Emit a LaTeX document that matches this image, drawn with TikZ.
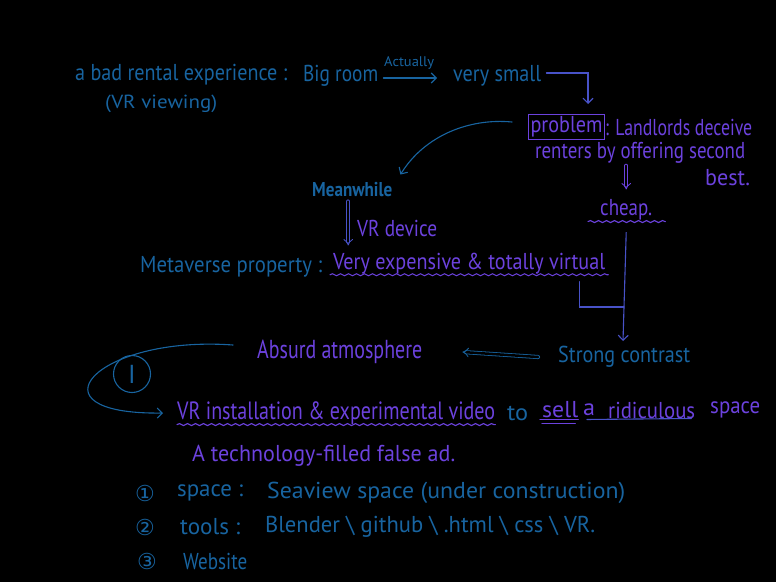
\documentclass[tikz,border=0pt]{standalone}
\usepackage{graphicx}
\usepackage{fontspec}
\setmainfont{PT Sans}
\newfontfamily\dejavu{DejaVu Sans}
\usetikzlibrary{arrows.meta,decorations.pathmorphing,shapes.geometric}
\definecolor{hblue}{RGB}{24,100,160}
\definecolor{hpurple}{RGB}{108,66,222}
\definecolor{hmid}{RGB}{72,82,200}
\newcommand\fitw[2]{\resizebox{#1}{\height}{#2}}
\begin{document}
\begin{tikzpicture}[x=1pt,y=-1pt,
 lbl/.style={inner sep=0pt, anchor=west},
 bt/.style={lbl, text=hblue, font=\fontsize{23}{27}\selectfont},
 ptx/.style={lbl, text=hpurple, font=\fontsize{23}{27}\selectfont},
 bline/.style={draw=hblue, line width=1.1pt, line cap=round},
 pline/.style={draw=hpurple, line width=1.1pt, line cap=round},
 mline/.style={draw=hmid, line width=1.1pt, line cap=round},
 tip/.style={-{Straight Barb[length=5pt,width=10pt]}},
 dbl/.style={double=black, double distance=2.5pt, line width=0.8pt, -{Implies}},
 wavy/.style={decorate, decoration={snake, amplitude=1pt, segment length=8pt}},
 numc/.style={lbl, text=hblue, font=\dejavu\fontsize{22}{24}\selectfont},
]
\fill[black] (0,0) rectangle (776,582);
\useasboundingbox (0,0) rectangle (776,582);

% top line
\node[bt] (bad) at (75,75) {\fitw{212pt}{a bad rental experience :}};
\node[bt, font=\fontsize{19}{22}\selectfont] (vrv) at (105,104) {\fitw{112pt}{(VR viewing)}};
\node[bt] (big) at (303,76) {\fitw{75pt}{Big room}};
\node[bt, font=\fontsize{14}{16}\selectfont] (act) at (384,63) {\fitw{50pt}{Actually}};
\node[bt] (small) at (453,76) {\fitw{88pt}{very small}};
\draw[bline, tip] ([xshift=5pt,yshift=-2pt]big.east) -- ([xshift=-16pt,yshift=-2pt]small.west);
\coordinate (dn1) at (588,104);
\draw[mline, tip] ([xshift=5pt,yshift=3pt]small.east) -| (dn1);

% problem block
\node[ptx, draw=hpurple, line width=1.1pt, inner sep=2pt] (prob) at (528,127) {\fitw{72pt}{problem}};
\node[ptx] (land) at (605,127) {\fitw{147pt}{: Landlords deceive}};
\node[ptx] (rent) at (535,153) {\fitw{210pt}{renters by offering second}};
\node[ptx] (best) at (705,178) {\fitw{45pt}{best.}};
\node[ptx] (cheap) at (600,210) {\fitw{52pt}{cheap.}};
\draw[pline, wavy] ([xshift=-12pt,yshift=-1pt]cheap.south west) -- ([xshift=13pt,yshift=-1pt]cheap.south east);
\draw[pline, dbl] (rent.south -| cheap.north) ++(0,2) -- ([yshift=10pt]cheap.north);

% meanwhile
\node[bt, font=\bfseries\fontsize{20}{23}\selectfont] (mean) at (312,190) {\fitw{80pt}{Meanwhile}};
\draw[bline, tip] ([xshift=-16pt,yshift=5pt]prob.west) .. controls (470,118) and (425,135) .. ([xshift=8pt,yshift=8pt]mean.north east);
\draw[mline, dbl] ([xshift=-4pt,yshift=-4pt]mean.south) -- ++(0,44);
\node[ptx] (vrd) at (357,228) {\fitw{80pt}{VR device}};
\node[bt] (meta) at (140,267) {\fitw{182pt}{Metaverse property :}};
\node[ptx] (exp) at (333,264) {\fitw{272pt}{Very expensive \& totally virtual}};
\draw[pline, wavy] ([xshift=-3pt,yshift=0pt]exp.south west) -- ([xshift=3pt,yshift=0pt]exp.south east);
\coordinate (jn) at (624,307);
\draw[mline] ([xshift=-26pt,yshift=-7pt]exp.south east) |- (jn);

% strong contrast
\node[bt] (strong) at (558,357) {\fitw{132pt}{Strong contrast}};
\coordinate (sc) at (623,341);
\draw[mline, tip] ([yshift=-12pt]cheap.south) -- (sc);
\node[ptx, font=\fontsize{26}{30}\selectfont] (abs) at (257,352) {\fitw{165pt}{Absurd atmosphere}};
\draw[bline, dbl] ([xshift=-20pt]strong.west) -- ([xshift=40pt]abs.east);

% I loop
\node[bt, anchor=center, draw=hblue, circle, line width=1.1pt, minimum size=37pt, inner sep=0pt, font=\fontsize{26}{28}\selectfont] (one) at (132,374) {I};
\node[ptx, font=\fontsize{25}{29}\selectfont] (vr) at (177,413) {\fitw{318pt}{VR installation \& experimental video}};
\draw[bline, tip] ([xshift=-24pt,yshift=7pt]abs.west) .. controls (95,335) and (25,415) .. ([xshift=-14pt]vr.west);
\draw[pline, wavy] ([yshift=0pt]vr.south west) -- ([yshift=0pt]vr.south east);
\node[bt] (to) at (507,413) {\fitw{21pt}{to}};
\node[ptx] (sell) at (542,410) {\fitw{36pt}{sell}};
\draw[pline] ([xshift=-2pt,yshift=-1pt]sell.south west) -- ([yshift=-1pt]sell.south east);
\draw[pline] ([yshift=-5pt]sell.south west) -- ([xshift=-3pt,yshift=-5pt]sell.south east);
\node[ptx] (aa) at (583,410) {\fitw{12pt}{a}};
\node[ptx] (rid) at (608,410) {\fitw{87pt}{ridiculous}};
\draw[mline] ([xshift=4pt,yshift=-1pt]aa.west |- rid.south) -- ([xshift=-4pt,yshift=0pt]rid.south east);
\node[ptx] (spc) at (710,410) {\fitw{50pt}{space}};
\node[ptx] (tech) at (192,456) {\fitw{263pt}{A technology-filled false ad.}};

% list
\node[numc] (n1) at (135,493) {①};
\node[bt] (sp) at (177,493) {\fitw{66pt}{space :}};
\node[bt] (sv) at (267,493) {\fitw{358pt}{Seaview space (under construction)}};
\node[numc] (n2) at (135,527) {②};
\node[bt] (tl) at (180,527) {\fitw{60pt}{tools :}};
\node[bt] (bl) at (265,527) {\fitw{330pt}{Blender \textbackslash{} github \textbackslash{} .html \textbackslash{} css \textbackslash{} VR.}};
\node[numc] (n3) at (137,561) {③};
\node[bt] (wb) at (183,561) {\fitw{64pt}{Website}};
\end{tikzpicture}
\end{document}
